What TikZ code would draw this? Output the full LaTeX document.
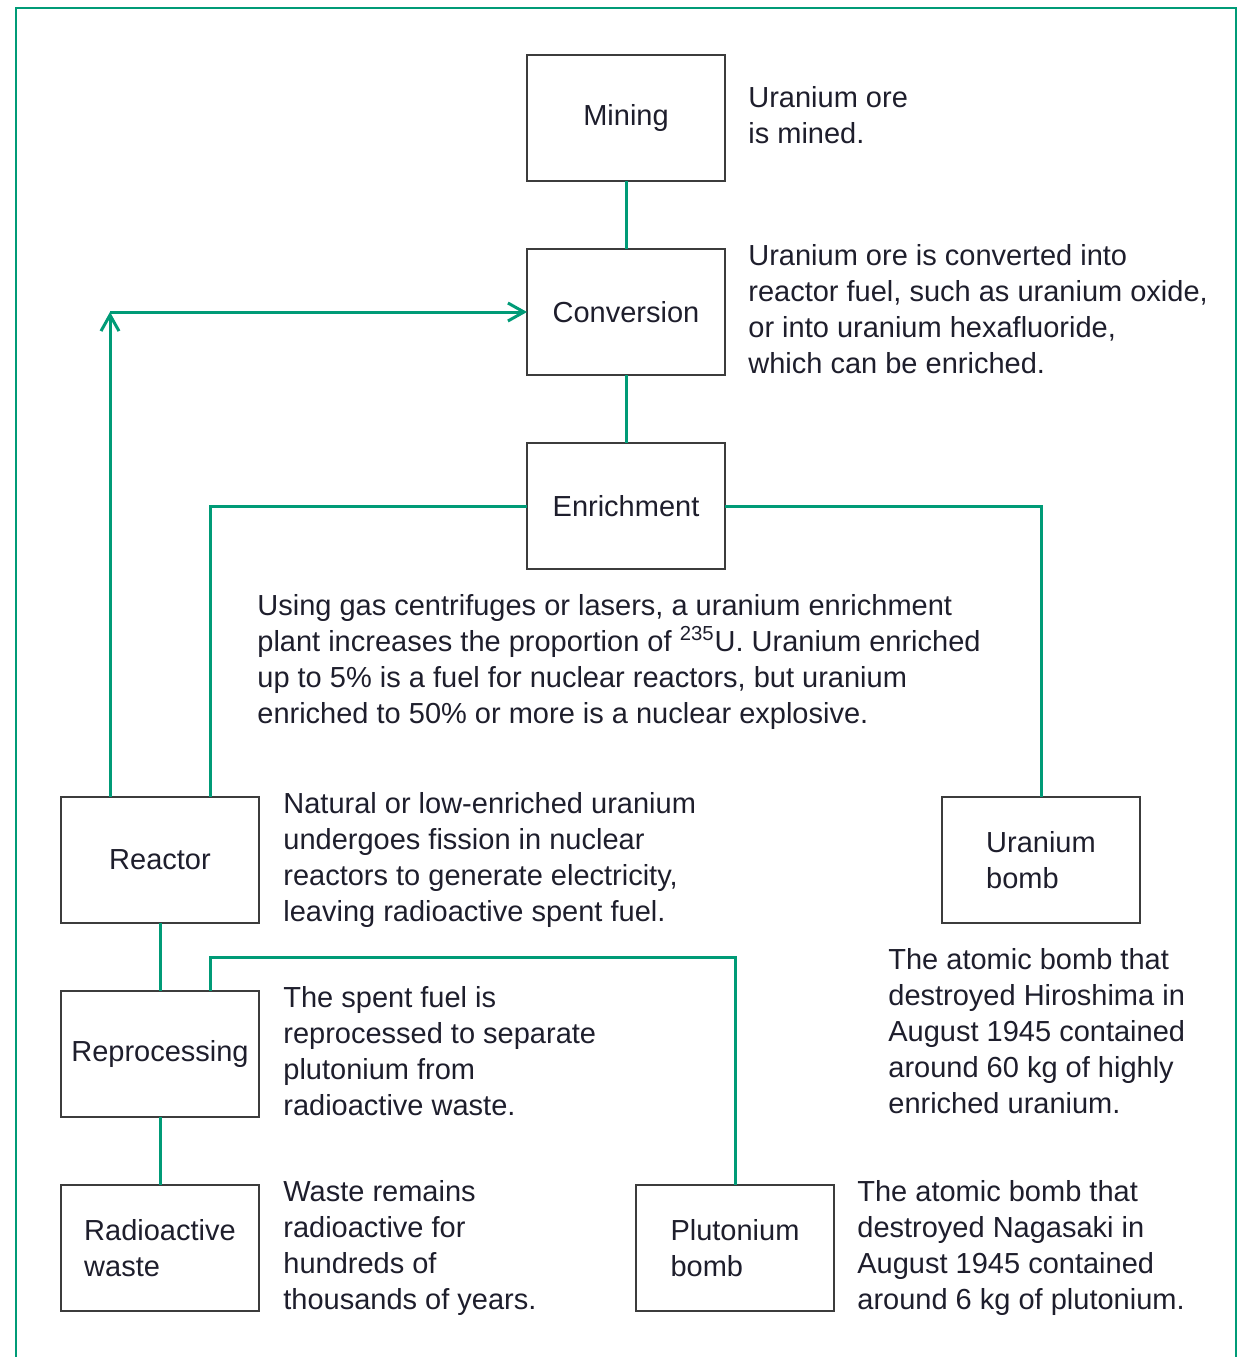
\documentclass[tikz,border=0pt]{standalone}
\usepackage{fontspec}
\setmainfont{Liberation Sans}
\usepackage{tikz}
\usetikzlibrary{positioning,arrows.meta,calc}
\definecolor{cLink}{HTML}{009B77}
\definecolor{cBox}{HTML}{3C3C3C}
\definecolor{cText}{HTML}{1E1E2C}
\tikzset{
  stage/.style ={draw=cBox, line width=1pt, minimum width=99pt, minimum height=63pt,
                 align=left, inner sep=0pt, outer sep=0pt,
                 font=\fontsize{14.5}{18}\selectfont, text=cText},
  note/.style  ={anchor=north west, align=left, inner sep=0pt,
                 font=\fontsize{14.5}{18}\selectfont, text=cText},
  link/.style  ={draw=cLink, line width=1.5pt},
  back/.style  ={link, -{Straight Barb[length=8pt,width=9pt]}},
  frame/.style ={draw=cLink, line width=1.4pt},
}

\begin{document}
\begin{tikzpicture}[x=0.5pt, y=-0.5pt, node distance=34pt]
  \useasboundingbox (0,0) rectangle (1243,1357);

  % ---- outer frame ----
  \draw[frame] (16,1357) |- (1236,8) -- (1236,1357);

  % ---- main column ----
  \node[stage] (mining) at (626,118) {Mining};
  \node[stage, below=of mining] (conversion) {Conversion};
  \node[stage, below=of conversion] (enrichment) {Enrichment};

  % ---- fuel cycle ----
  \node[stage] (reactor) at (160,860) {Reactor};
  \node[stage, below=of reactor] (reprocessing) {Reprocessing};
  \node[stage, below=of reprocessing] (waste) {Radioactive\\waste};

  % ---- weapons ----
  \node[stage] (ubomb) at (1041,860) {Uranium\\bomb};
  \node[stage] (pubomb) at (735,1248) {Plutonium\\bomb};

  % ---- notes ----
  \node[note] (nMining) at (748,86)
    {Uranium ore\\is mined.};
  \node[note] (nConversion) at (748,244)
    {Uranium ore is converted into\\reactor fuel, such as uranium oxide,\\or into uranium hexafluoride,\\which can be enriched.};
  \node[note] (nEnrichment) at (257,594)
    {Using gas centrifuges or lasers, a uranium enrichment\\plant increases the proportion of \textsuperscript{235}U. Uranium enriched\\up to 5\% is a fuel for nuclear reactors, but uranium\\enriched to 50\% or more is a nuclear explosive.};
  \node[note] (nReactor) at (283,792)
    {Natural or low-enriched uranium\\undergoes fission in nuclear\\reactors to generate electricity,\\leaving radioactive spent fuel.};
  \node[note] (nUbomb) at (888,948)
    {The atomic bomb that\\destroyed Hiroshima in\\August 1945 contained\\around 60 kg of highly\\enriched uranium.};
  \node[note] (nReprocessing) at (283,986)
    {The spent fuel is\\reprocessed to separate\\plutonium from\\radioactive waste.};
  \node[note] (nWaste) at (283,1180)
    {Waste remains\\radioactive for\\hundreds of\\thousands of years.};
  \node[note] (nPubomb) at (857,1180)
    {The atomic bomb that\\destroyed Nagasaki in\\August 1945 contained\\around 6 kg of plutonium.};

  % ---- connectors ----
  \draw[link] (mining) -- (conversion);
  \draw[link] (conversion) -- (enrichment);
  \draw[link] (enrichment.west) -| ([xshift=25pt]reactor.north);
  \draw[link] (enrichment.east) -| (ubomb.north);
  \draw[link] (reactor) -- (reprocessing);
  \draw[link] (reprocessing) -- (waste);
  \draw[link] ([xshift=25pt]reprocessing.north) -- ++(0pt,17pt) -| (pubomb.north);

  % recycled fuel back to conversion
  \coordinate (ret) at ([xshift=-25pt]reactor.north |- conversion.west);
  \draw[back] ([xshift=-25pt]reactor.north) -- (ret);
  \draw[back] (ret) -- (conversion.west);

\end{tikzpicture}
\end{document}
